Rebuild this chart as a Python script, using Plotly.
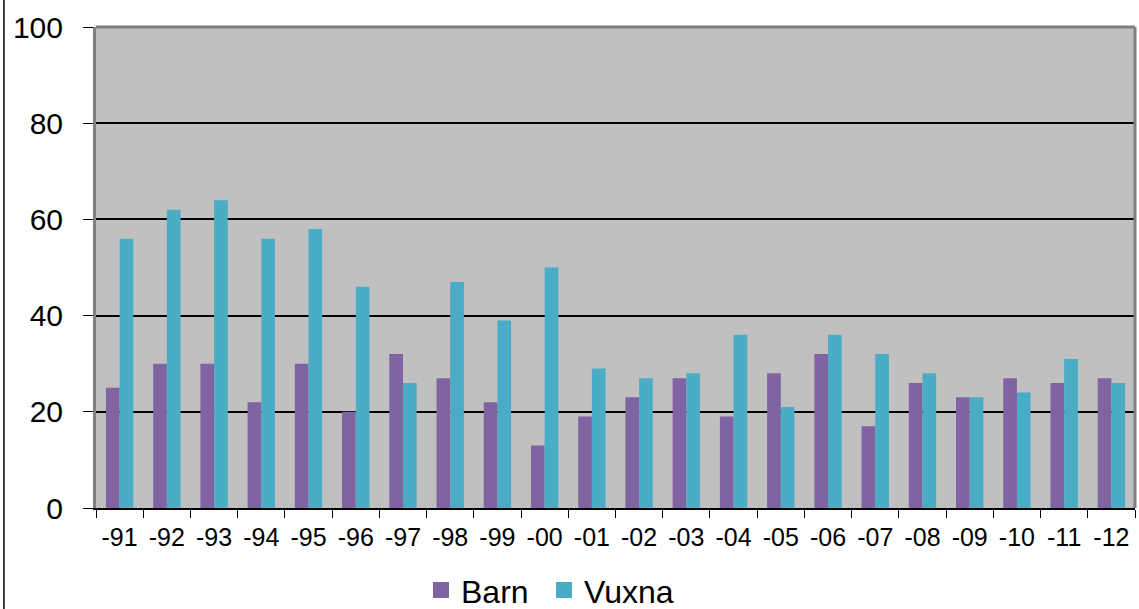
import plotly.graph_objects as go

years = ["-91", "-92", "-93", "-94", "-95", "-96", "-97", "-98", "-99", "-00", "-01",
         "-02", "-03", "-04", "-05", "-06", "-07", "-08", "-09", "-10", "-11", "-12"]
barn = [25, 30, 30, 22, 30, 20, 32, 27, 22, 13, 19, 23, 27, 19, 28, 32, 17, 26, 23, 27, 26, 27]
vuxna = [56, 62, 64, 56, 58, 46, 26, 47, 39, 50, 29, 27, 28, 36, 21, 36, 32, 28, 23, 24, 31, 26]
y_ticks = [0, 20, 40, 60, 80, 100]

FONT = "Liberation Sans, Arial, sans-serif"
C_BARN = "#8064A2"
C_VUXNA = "#4BACC6"

fig = go.Figure()
fig.add_trace(go.Bar(name="Barn", x=years, y=barn, showlegend=False,
                     marker=dict(color=C_BARN, line=dict(width=0))))
fig.add_trace(go.Bar(name="Vuxna", x=years, y=vuxna, showlegend=False,
                     marker=dict(color=C_VUXNA, line=dict(width=0))))
# legend entries with larger square swatches, one legend box each
for name, col, lg in [("Barn", C_BARN, "legend"), ("Vuxna", C_VUXNA, "legend2")]:
    fig.add_trace(go.Scatter(name=name, x=[None], y=[None], mode="markers",
                             marker=dict(symbol="square", size=16, color=col),
                             showlegend=True, legend=lg, hoverinfo="skip"))

legend_common = dict(orientation="h", xanchor="left", y=-0.171, yanchor="middle",
                     font=dict(size=32, family=FONT), itemsizing="trace",
                     itemwidth=30, bgcolor="rgba(0,0,0,0)")

fig.update_layout(
    width=1139, height=609,
    margin=dict(l=96, r=4, t=27, b=101, autoexpand=False),
    paper_bgcolor="white",
    plot_bgcolor="#C0C0C0",
    barmode="group",
    bargap=0.42,
    bargroupgap=0,
    font=dict(family=FONT, color="black"),
    showlegend=True,
    legend=dict(x=0.3128, **legend_common),
    legend2=dict(x=0.4312, **legend_common),
    xaxis=dict(
        type="category",
        automargin=False,
        showline=True, linecolor="black", linewidth=2,
        ticks="outside", tickson="boundaries", ticklen=8, tickcolor="black", tickwidth=1,
        tickfont=dict(size=25, family=FONT),
        ticklabelstandoff=6,
        showgrid=False,
    ),
    yaxis=dict(
        range=[0, 100],
        automargin=False,
        tickvals=y_ticks,
        showline=True, linecolor="#808080", linewidth=3,
        ticks="outside", ticklen=10, tickcolor="black", tickwidth=1,
        tickfont=dict(size=30, family=FONT),
        ticklabelstandoff=14,
        showgrid=True, gridcolor="black", gridwidth=1.5,
        zeroline=False,
    ),
)

# top and right plot-area border
fig.add_shape(type="line", xref="paper", yref="paper", x0=0, x1=1, y0=1, y1=1,
              line=dict(color="#808080", width=3))
fig.add_shape(type="line", xref="paper", yref="paper", x0=1, x1=1, y0=0, y1=1,
              line=dict(color="#808080", width=3))
# outer chart border on the left
fig.add_shape(type="line", xref="paper", yref="paper", x0=-0.0886, x1=-0.0886, y0=-0.21, y1=1.06,
              line=dict(color="black", width=1.5))

fig.write_html(
    "out.html",
    config={"displayModeBar": False},
    post_script="document.body.style.margin='0';document.body.style.overflow='hidden';",
)
